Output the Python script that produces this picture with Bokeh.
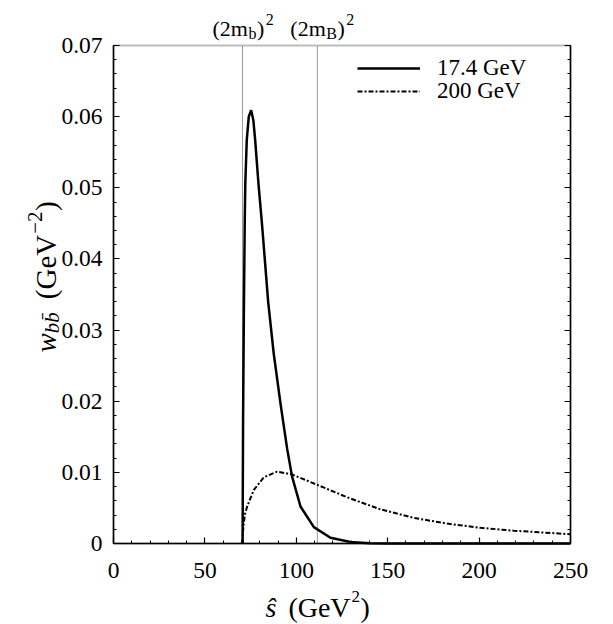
import math
from bokeh.plotting import figure
from bokeh.models import (Range1d, FixedTicker, LinearAxis, Label, Legend,
                          LegendItem, CustomJSTickFormatter, BoxAnnotation)
from bokeh.embed import file_html
from bokeh.resources import INLINE

# ---------------- data ----------------
s_174 = [70.6, 70.7, 70.9, 71.3, 71.8, 72.1, 72.9, 74.0, 75.3, 76.5, 77.5, 79.3, 81.2,
         83.0, 84.6, 87.7, 91.4, 95.0, 97.7, 102.3, 109.6, 118.7, 129.6, 140.0, 150.0, 200.0, 250.0]
w_174 = [0.0, 0.0050, 0.0180, 0.0320, 0.0454, 0.0506, 0.0567, 0.0600, 0.0609, 0.0595, 0.0567,
         0.0506, 0.0450, 0.0392, 0.0340, 0.0266, 0.0196, 0.0133, 0.0094, 0.0052, 0.0023, 0.0008,
         0.0002, 0.00005, 0.0, 0.0, 0.0]

s_200 = [70.6, 70.8, 71.3, 72.0, 73.1, 76.7, 82.2, 89.5, 97.7, 111.9, 127.8, 146.0,
         164.3, 182.5, 200.8, 219.0, 250.0]
w_200 = [0.0, 0.0015, 0.0030, 0.0042, 0.0052, 0.0075, 0.0093, 0.0101, 0.0097, 0.0082,
         0.0065, 0.0048, 0.0036, 0.0028, 0.0022, 0.0018, 0.0013]

series_labels = ["17.4 GeV", "200 GeV"]

X_MIN, X_MAX = 0, 250
Y_MIN, Y_MAX = 0.0, 0.07
x_ticks = [0, 50, 100, 150, 200, 250]
x_tick_labels = ["0", "50", "100", "150", "200", "250"]
x_minor = list(range(0, 251, 10))
y_ticks = [0, 0.01, 0.02, 0.03, 0.04, 0.05, 0.06, 0.07]
y_tick_labels = ["0", "0.01", "0.02", "0.03", "0.04", "0.05", "0.06", "0.07"]
y_minor = [round(i * 0.002, 3) for i in range(36)]

thresholds = [70.56, 111.5]          # (2m_b)^2 , (2m_B)^2
threshold_sub = ["b", "B"]

# ---------------- layout (pixels) ----------------
W, H = 605, 624
PX_L, PX_R, PX_T, PX_B = 113, 570, 45, 543     # where the plot box sits on the canvas
kx = (PX_R - PX_L) / (X_MAX - X_MIN)
ky = (PX_B - PX_T) / (Y_MAX - Y_MIN)
x_range = Range1d(X_MIN - PX_L / kx, X_MIN + (W - PX_L) / kx)
y_range = Range1d(Y_MIN - (H - PX_B) / ky, Y_MAX + PX_T / ky)

FONT = "Liberation Serif"

# Times-like advance widths (per 1000 em)
W_REG = {" ": 250, "(": 333, ")": 333, "2": 500, "m": 778, "G": 722, "e": 444,
         "V": 722, "B": 667, "b": 500, "\u2212": 564}
W_IT = {"w": 667, "b": 500, "s": 389, "\u015d": 389, "\u0304": 0}


def text_width(txt, size, style):
    tab = W_IT if style == "italic" else W_REG
    return sum(tab.get(c, 500) for c in txt) * size / 1000.0


def chain(p, pieces, x, y, x0, y0, vertical=False):
    adv = 0.0
    for txt, size, style, shift, gap in pieces:
        adv += gap
        if vertical:
            xo, yo, ang = x0 - shift, y0 + adv, math.pi / 2
        else:
            xo, yo, ang = x0 + adv, y0 + shift, 0
        p.add_layout(Label(x=x, y=y, x_offset=xo, y_offset=yo, angle=ang, text=txt,
                           text_font=FONT, text_font_size=f"{size}px",
                           text_font_style=style, text_color="black",
                           text_align="left", text_baseline="alphabetic"))
        adv += text_width(txt, size, style)


# ---------------- figure ----------------
p = figure(width=W, height=H, x_range=x_range, y_range=y_range, title=None,
           x_axis_location=None, y_axis_location=None,
           output_backend="svg", toolbar_location=None,
           min_border=0, min_border_left=0, min_border_right=0,
           min_border_top=0, min_border_bottom=0,
           background_fill_color="white", border_fill_color="white")
p.grid.visible = False
p.outline_line_color = None

xt = FixedTicker(ticks=x_ticks, minor_ticks=x_minor)
yt = FixedTicker(ticks=y_ticks, minor_ticks=y_minor)


def style_axis(ax):
    ax.major_tick_in = 6
    ax.major_tick_out = 0
    ax.minor_tick_in = 3
    ax.minor_tick_out = 0
    ax.axis_line_width = 1.5
    ax.axis_line_color = "black"
    ax.major_tick_line_width = 1.2
    ax.minor_tick_line_width = 1
    ax.major_label_text_font = FONT
    ax.major_label_text_font_size = "23.5px"
    ax.major_label_text_color = "black"


bx = LinearAxis(ticker=xt, fixed_location=Y_MIN, bounds=(X_MIN, X_MAX))
bx.major_label_overrides = {t: l for t, l in zip(x_ticks, x_tick_labels)}
style_axis(bx)
bx.major_label_standoff = 19
p.add_layout(bx, "below")

ly = LinearAxis(ticker=yt, fixed_location=X_MIN, bounds=(Y_MIN, Y_MAX))
ly.major_label_overrides = {t: l for t, l in zip(y_ticks, y_tick_labels)}
style_axis(ly)
ly.major_label_standoff = 11
p.add_layout(ly, "left")

ry = LinearAxis(ticker=yt, fixed_location=X_MAX, bounds=(Y_MIN, Y_MAX),
                formatter=CustomJSTickFormatter(code="return ''"))
style_axis(ry)
ry.major_label_text_font_size = "1px"
p.add_layout(ry, "right")

# plot box
p.add_layout(BoxAnnotation(left=X_MIN, right=X_MAX, bottom=Y_MIN, top=Y_MAX,
                           fill_alpha=0, line_color="#222222", line_width=2, level="underlay"))

# threshold dotted lines
p.segment(x0=thresholds, y0=[Y_MIN] * 2, x1=thresholds, y1=[Y_MAX] * 2,
          line_color="#333333", line_dash="1 1", line_width=1)

r1 = p.line(s_174, w_174, line_color="black", line_width=2.5)
r2 = p.line(s_200, w_200, line_color="black", line_width=2, line_dash="5 2 2 2")

for lab, rend, vy in ((series_labels[0], r1, 81), (series_labels[1], r2, 104)):
    p.add_layout(Legend(items=[LegendItem(label=lab, renderers=[rend])],
                        location=(357, H - vy), padding=0, spacing=0, margin=0,
                        glyph_width=63, glyph_height=20, label_height=20, label_standoff=17,
                        label_text_font=FONT, label_text_font_size="23px",
                        label_text_color="black",
                        border_line_color=None, background_fill_alpha=0))

# top threshold labels
for xv, sub, dx in zip(thresholds, threshold_sub, (-30, -27)):
    chain(p, [("(2m", 22, "normal", 0, 0), (sub, 16, "normal", -5, 0.5),
              (")", 22, "normal", 0, 0.5), ("2", 16, "normal", 9, 1.5)],
          xv, Y_MAX, dx, 17)

# x axis label
chain(p, [("\u015d", 28, "italic", 0, 0), ("(GeV", 28, "normal", 0, 12),
          ("2", 17, "normal", 11, 1), (")", 28, "normal", 0, 0.5)],
      X_MIN, Y_MIN, 152, -64)

# y axis label
chain(p, [("w", 29, "italic", 0, 0), ("bb\u0304", 21, "italic", -6, 0),
          ("(GeV", 29, "normal", 0, 13), ("\u22122", 21, "normal", 11, 1),
          (")", 29, "normal", 0, 0.5)],
      X_MIN, Y_MIN, -68, 191, vertical=True)

open("out.html", "w").write(file_html(p, INLINE))
